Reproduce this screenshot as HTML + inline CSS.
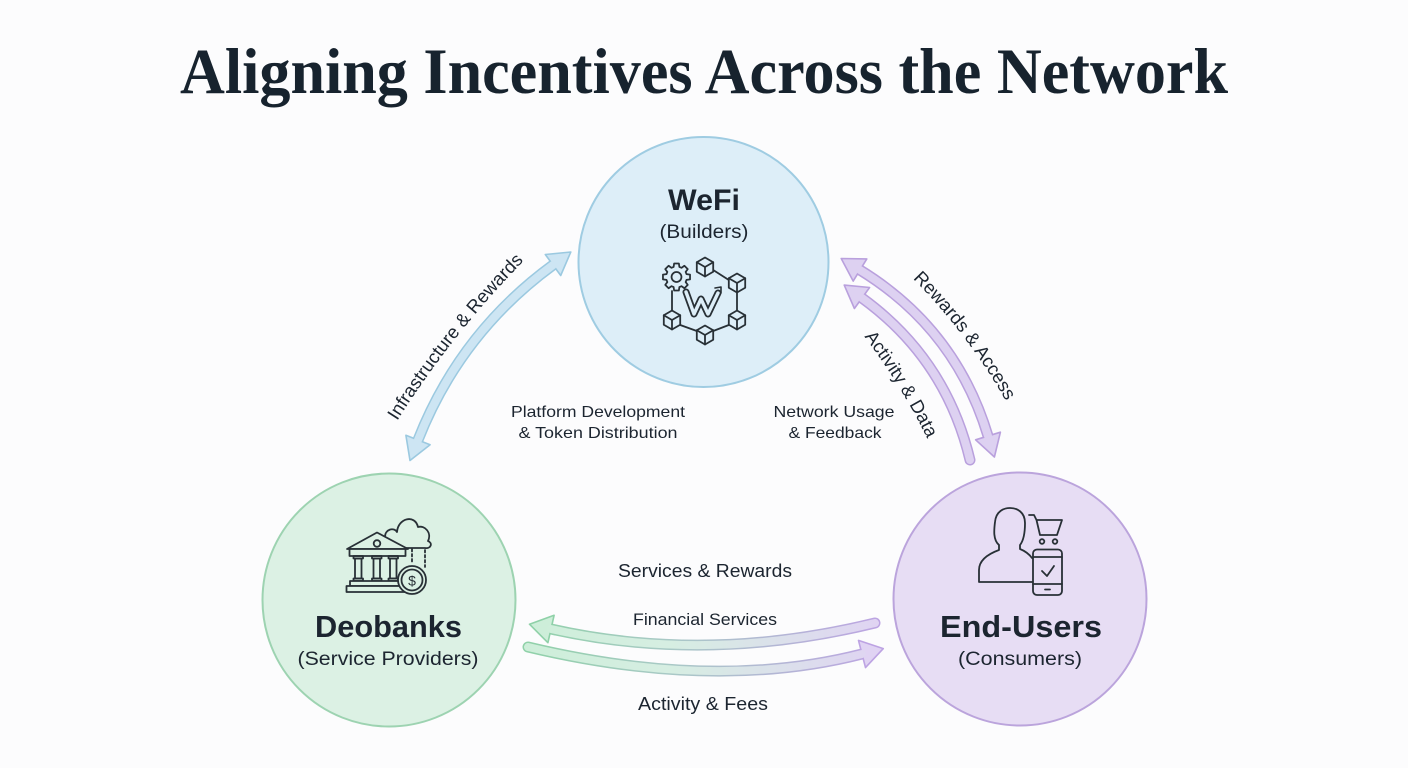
<!DOCTYPE html>
<html>
<head>
<meta charset="utf-8">
<style>
  html,body{margin:0;padding:0;background:#fcfcfd;}
  svg{display:block;}
  .t{font-family:"Liberation Sans",sans-serif;fill:#1c2530;}
</style>
</head>
<body>
<svg width="1408" height="768" viewBox="0 0 1408 768" xmlns="http://www.w3.org/2000/svg">
  <defs>
    <linearGradient id="gF" gradientUnits="userSpaceOnUse" x1="525" y1="0" x2="885" y2="0">
      <stop offset="0" stop-color="#cdeed9"/>
      <stop offset="0.4" stop-color="#d6eee2"/>
      <stop offset="1" stop-color="#e0d3f3"/>
    </linearGradient>
    <linearGradient id="gS" gradientUnits="userSpaceOnUse" x1="525" y1="0" x2="885" y2="0">
      <stop offset="0" stop-color="#8fd1a8"/>
      <stop offset="0.4" stop-color="#a9c9c6"/>
      <stop offset="1" stop-color="#bda3e3"/>
    </linearGradient>
    <g id="cube">
      <path d="M0,-9.5 L8.2,-4.75 L8.2,4.75 L0,9.5 L-8.2,4.75 L-8.2,-4.75 Z" fill="#ddeef8"/>
      <path d="M-8.2,-4.75 L0,0 L8.2,-4.75 M0,0 L0,9.5" fill="none"/>
    </g>
    <path id="pInfra" d="M385.6,439.7 Q450,332.6 539.4,245.3" fill="none"/>
    <path id="pRew" d="M898.9,265.1 Q969.8,331.9 1015.1,417.9" fill="none"/>
    <path id="pAct" d="M852.5,321.5 Q902.5,383.4 935.5,456" fill="none"/>
  </defs>

  <rect width="1408" height="768" fill="#fcfcfd"/>

  <!-- Title -->
  <text x="704" y="93" text-anchor="middle" font-family="'Liberation Serif',serif" font-weight="bold" font-size="65" fill="#17232e" textLength="1048" lengthAdjust="spacingAndGlyphs">Aligning Incentives Across the Network</text>

  <!-- Circles -->
  <circle cx="703.5" cy="262" r="125" fill="#ddeef8" stroke="#9fcce2" stroke-width="2"/>
  <circle cx="389" cy="600" r="126.5" fill="#dcf1e4" stroke="#9dd3b1" stroke-width="2"/>
  <circle cx="1020" cy="599" r="126.5" fill="#e7ddf4" stroke="#bba4dc" stroke-width="2"/>

  <!-- Left blue double arrow -->
  <path d="M418,440 Q460,333 553,265" fill="none" stroke="#9bc9e0" stroke-width="11" stroke-linecap="round"/>
  <polygon points="410,460.5 405.9,435.3 430.1,444.7" fill="#cde5f3" stroke="#9bc9e0" stroke-width="1.6" stroke-linejoin="round"/>
  <polygon points="570.8,252 560.7,275.5 545.3,254.5" fill="#cde5f3" stroke="#9bc9e0" stroke-width="1.6" stroke-linejoin="round"/>
  <path d="M418,440 Q460,333 553,265" fill="none" stroke="#cde5f3" stroke-width="8" stroke-linecap="round"/>

  <!-- Right purple outer double arrow -->
  <path d="M860,270 Q955.6,328.6 988,436" fill="none" stroke="#b9a0dd" stroke-width="11" stroke-linecap="round"/>
  <polygon points="841.2,258.5 866.8,258.9 853.2,281.1" fill="#ddd1f1" stroke="#b9a0dd" stroke-width="1.6" stroke-linejoin="round"/>
  <polygon points="994.4,457 975.6,439.8 1000.4,432.2" fill="#ddd1f1" stroke="#b9a0dd" stroke-width="1.6" stroke-linejoin="round"/>
  <path d="M860,270 Q955.6,328.6 988,436" fill="none" stroke="#ddd1f1" stroke-width="8" stroke-linecap="round"/>

  <!-- Right purple inner arrow -->
  <path d="M862,298 Q946,359 970,460" fill="none" stroke="#b9a0dd" stroke-width="11" stroke-linecap="round"/>
  <polygon points="844.2,285.1 869.6,287.5 854.4,308.5" fill="#ddd1f1" stroke="#b9a0dd" stroke-width="1.6" stroke-linejoin="round"/>
  <path d="M862,298 Q946,359 970,460" fill="none" stroke="#ddd1f1" stroke-width="8" stroke-linecap="round"/>

  <!-- Bottom upper arrow (to Deobanks) -->
  <path d="M875,623 Q707,664 551,629" fill="none" stroke="url(#gS)" stroke-width="11" stroke-linecap="round"/>
  <polygon points="529.5,624.2 554.1,615.3 547.9,642.7" fill="#cdeed9" stroke="#8fd1a8" stroke-width="1.6" stroke-linejoin="round"/>
  <path d="M875,623 Q707,664 551,629" fill="none" stroke="url(#gF)" stroke-width="8" stroke-linecap="round"/>

  <!-- Bottom lower arrow (to End-Users) -->
  <path d="M528,647 Q715,691.5 862,654" fill="none" stroke="url(#gS)" stroke-width="11" stroke-linecap="round"/>
  <polygon points="883.3,648.6 865.5,667.6 858.5,640.4" fill="#e0d3f3" stroke="#bda3e3" stroke-width="1.6" stroke-linejoin="round"/>
  <path d="M528,647 Q715,691.5 862,654" fill="none" stroke="url(#gF)" stroke-width="8" stroke-linecap="round"/>

  <!-- Curved labels -->
  <text class="t" font-size="18.5"><textPath href="#pInfra" startOffset="50%" text-anchor="middle">Infrastructure &amp; Rewards</textPath></text>
  <text class="t" font-size="18.5"><textPath href="#pRew" startOffset="50%" text-anchor="middle">Rewards &amp; Access</textPath></text>
  <text class="t" font-size="18.5"><textPath href="#pAct" startOffset="50%" text-anchor="middle">Activity &amp; Data</textPath></text>

  <!-- Node labels -->
  <text class="t" x="704" y="210" text-anchor="middle" font-size="30" font-weight="bold" textLength="72" lengthAdjust="spacingAndGlyphs">WeFi</text>
  <text class="t" x="704" y="238" text-anchor="middle" font-size="19" textLength="89" lengthAdjust="spacingAndGlyphs">(Builders)</text>
  <text class="t" x="388.5" y="637" text-anchor="middle" font-size="31" font-weight="bold" textLength="147" lengthAdjust="spacingAndGlyphs">Deobanks</text>
  <text class="t" x="388" y="665" text-anchor="middle" font-size="19" textLength="181" lengthAdjust="spacingAndGlyphs">(Service Providers)</text>
  <text class="t" x="1021" y="637" text-anchor="middle" font-size="31" font-weight="bold" textLength="162" lengthAdjust="spacingAndGlyphs">End-Users</text>
  <text class="t" x="1020" y="665" text-anchor="middle" font-size="19" textLength="124" lengthAdjust="spacingAndGlyphs">(Consumers)</text>

  <!-- Center labels -->
  <text class="t" x="598" y="417" text-anchor="middle" font-size="16" textLength="174" lengthAdjust="spacingAndGlyphs">Platform Development</text>
  <text class="t" x="598" y="438" text-anchor="middle" font-size="16" textLength="159" lengthAdjust="spacingAndGlyphs">&amp; Token Distribution</text>
  <text class="t" x="834" y="417" text-anchor="middle" font-size="16" textLength="121" lengthAdjust="spacingAndGlyphs">Network Usage</text>
  <text class="t" x="835" y="438" text-anchor="middle" font-size="16" textLength="93" lengthAdjust="spacingAndGlyphs">&amp; Feedback</text>

  <text class="t" x="705" y="577" text-anchor="middle" font-size="18" textLength="174" lengthAdjust="spacingAndGlyphs">Services &amp; Rewards</text>
  <text class="t" x="705" y="625" text-anchor="middle" font-size="16.5" textLength="144" lengthAdjust="spacingAndGlyphs">Financial Services</text>
  <text class="t" x="703" y="710" text-anchor="middle" font-size="18" textLength="130" lengthAdjust="spacingAndGlyphs">Activity &amp; Fees</text>

  <!-- WeFi icon -->
  <g stroke="#283036" stroke-width="1.8" fill="none" stroke-linejoin="round" stroke-linecap="round">
    <line x1="713.2" y1="270" x2="728.8" y2="280"/>
    <line x1="737" y1="292.5" x2="737" y2="310.5"/>
    <line x1="728.8" y1="325" x2="713.2" y2="331"/>
    <line x1="696.8" y1="331" x2="680.2" y2="325"/>
    <line x1="672" y1="310.5" x2="672" y2="291"/>
    <g transform="translate(676.5,277) scale(1.1)" stroke-width="1.6">
      <path fill="#ddeef8" d="M9.13,-2.62 L12.31,-2.17 L12.31,2.17 L9.13,2.62 L8.31,4.61 L10.24,7.17 L7.17,10.24 L4.61,8.31 L2.62,9.13 L2.17,12.31 L-2.17,12.31 L-2.62,9.13 L-4.61,8.31 L-7.17,10.24 L-10.24,7.17 L-8.31,4.61 L-9.13,2.62 L-12.31,2.17 L-12.31,-2.17 L-9.13,-2.62 L-8.31,-4.61 L-10.24,-7.17 L-7.17,-10.24 L-4.61,-8.31 L-2.62,-9.13 L-2.17,-12.31 L2.17,-12.31 L2.62,-9.13 L4.61,-8.31 L7.17,-10.24 L10.24,-7.17 L8.31,-4.61 Z"/>
      <circle cx="0" cy="0" r="4.5"/>
    </g>
    <use href="#cube" x="705" y="267"/>
    <use href="#cube" x="737" y="283"/>
    <use href="#cube" x="737" y="320"/>
    <use href="#cube" x="705" y="335"/>
    <use href="#cube" x="672" y="320"/>
    <!-- W -->
    <path d="M686,292 L694,314 L701,299 L708,314 L718,293" stroke-width="7"/>
    <path d="M686,292 L694,314 L701,299 L708,314 L718,293" stroke="#ddeef8" stroke-width="3.4"/>
    <path d="M715,288 L721,287 L721,293" stroke-width="1.6"/>
  </g>

  <!-- Bank icon -->
  <g stroke="#283036" stroke-width="1.8" fill="none" stroke-linejoin="round" stroke-linecap="round">
    <path d="M385,548 C377,548 377,537 385,537 C385,529 394,527 397,532 C398,518 415,514 418,527 C425,525 432,533 428,541 C433,543 431,549 425,548 Z" fill="#dcf1e4"/>
    <line x1="412" y1="549" x2="412" y2="563" stroke-dasharray="2.5 2.5"/>
    <line x1="425" y1="550" x2="425" y2="567" stroke-dasharray="2.5 2.5"/>
    <path d="M347,549 L377,532.5 L408,549 Z" fill="#dcf1e4"/>
    <circle cx="377" cy="543.5" r="3.3"/>
    <rect x="349.5" y="549" width="56" height="7" fill="#dcf1e4"/>
    <rect x="353.5" y="556" width="9.5" height="2.5"/>
    <rect x="372" y="556" width="9.5" height="2.5"/>
    <rect x="388.5" y="556" width="9.5" height="2.5"/>
    <rect x="355" y="558.5" width="6.5" height="20"/>
    <rect x="373.5" y="558.5" width="6.5" height="20"/>
    <rect x="390" y="558.5" width="6.5" height="20"/>
    <rect x="353.5" y="578.5" width="9.5" height="2.5"/>
    <rect x="372" y="578.5" width="9.5" height="2.5"/>
    <rect x="388.5" y="578.5" width="9.5" height="2.5"/>
    <rect x="350" y="581" width="53" height="5" fill="#dcf1e4"/>
    <rect x="346.5" y="586" width="59" height="6" fill="#dcf1e4"/>
    <circle cx="412" cy="580" r="14" fill="#dcf1e4"/>
    <circle cx="412" cy="580" r="10.5"/>
  </g>
  <text x="412" y="585.5" text-anchor="middle" font-family="'Liberation Sans',sans-serif" font-size="14" fill="#283036">$</text>

  <!-- Person/phone/cart icon -->
  <g stroke="#283036" stroke-width="1.8" fill="none" stroke-linejoin="round" stroke-linecap="round">
    <path d="M1033,582 L979,582 L979,570 C979,560 988,554 999,550 L999,545 C993,540 994,530 995,522 C996,511 1004,508 1010,508 C1017,508 1025,512 1025,523 C1025,531 1024,540 1020,545 L1020,549 C1025,551 1029,554 1032,558"/>
    <path d="M1029,515 L1034,515 L1036.5,520 L1062,520 L1057,535 L1040,535 L1036.5,520"/>
    <circle cx="1042" cy="541.5" r="2.3"/>
    <circle cx="1055" cy="541.5" r="2.3"/>
    <rect x="1033" y="549.5" width="29" height="45.5" rx="4" fill="#e7ddf4"/>
    <line x1="1033" y1="557" x2="1062" y2="557"/>
    <line x1="1033" y1="584" x2="1062" y2="584"/>
    <line x1="1045" y1="589.5" x2="1050" y2="589.5"/>
    <path d="M1042,571 L1047,576 L1054,566"/>
  </g>
</svg>
</body>
</html>
